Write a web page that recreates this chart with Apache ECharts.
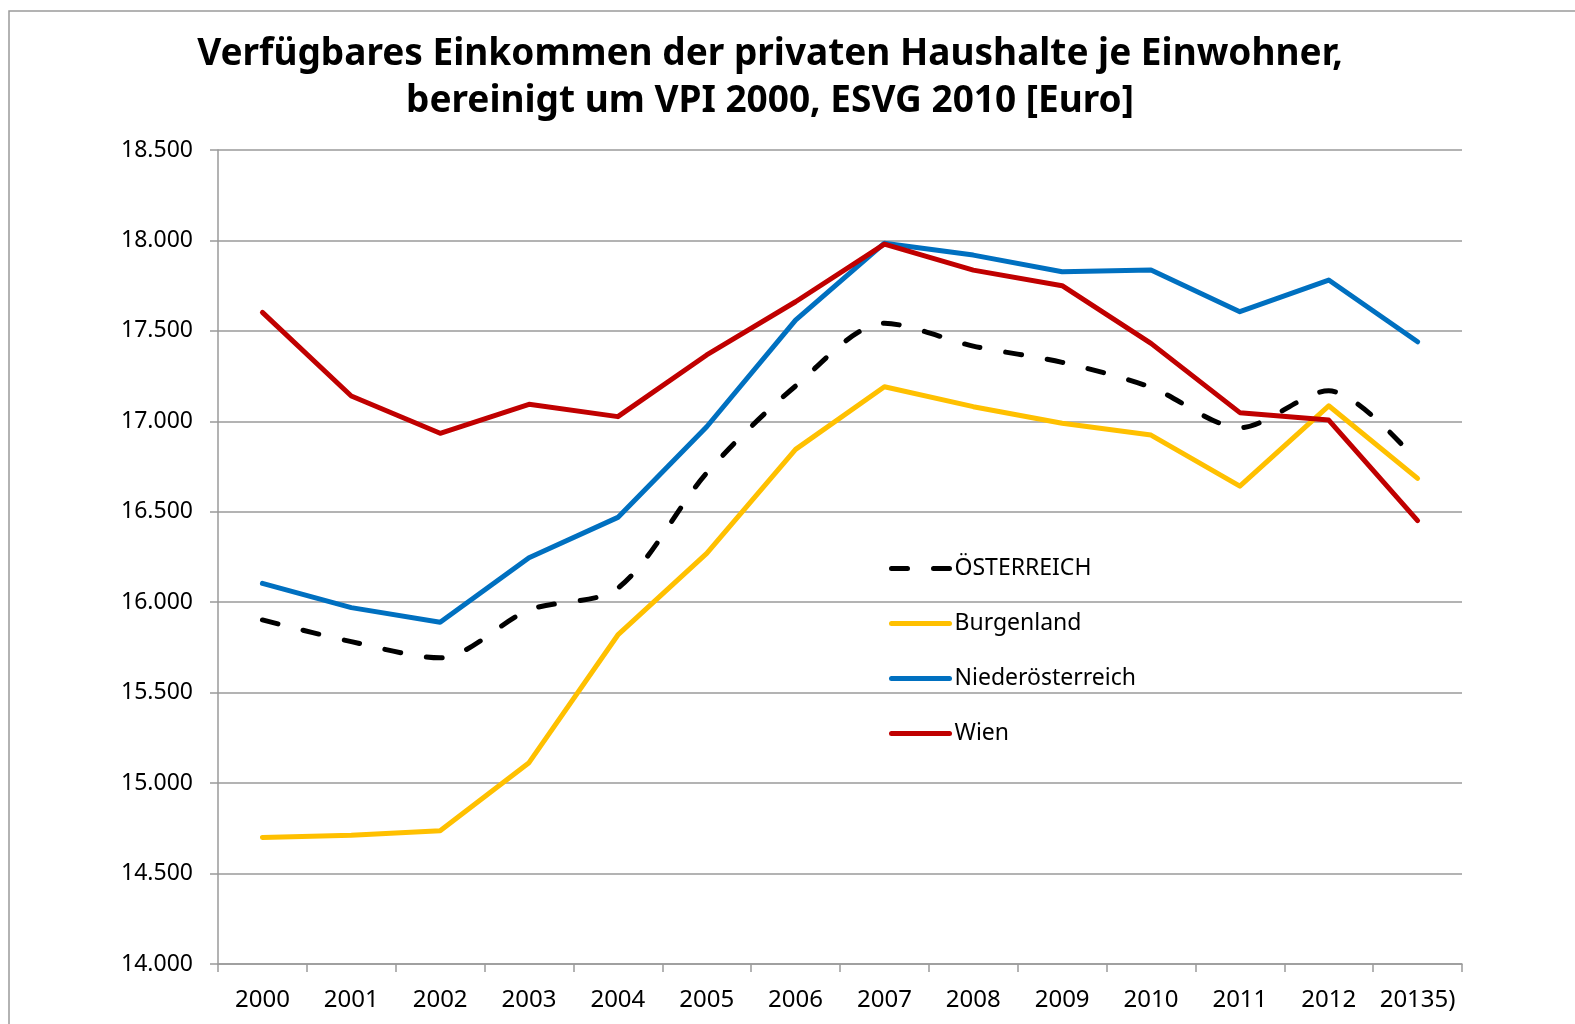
<!DOCTYPE html>
<html>
<head>
<meta charset="utf-8">
<script src="https://cdn.jsdelivr.net/npm/echarts@6/dist/echarts.min.js"></script>
<style>
  html, body { margin: 0; padding: 0; background: #fff; }
  #chart { width: 1575px; height: 1024px; }
</style>
</head>
<body>
<div id="chart"></div>
<script>
// data
const years = ["2000", "2001", "2002", "2003", "2004", "2005", "2006", "2007", "2008", "2009", "2010", "2011", "2012", "20135)"]
const oesterreich = [15902, 15782, 15693, 15957, 16078, 16715, 17195, 17542, 17416, 17326, 17188, 16965, 17169, 16775]
const burgenland = [14700, 14712, 14737, 15113, 15819, 16270, 16845, 17191, 17081, 16989, 16924, 16642, 17086, 16685]
const niederoesterreich = [16104, 15970, 15889, 16246, 16469, 16970, 17560, 17985, 17919, 17827, 17836, 17606, 17781, 17440]
const wien = [17602, 17140, 16934, 17094, 17026, 17367, 17661, 17980, 17836, 17750, 17431, 17048, 17007, 16451]

const chart = echarts.init(document.getElementById("chart"))

const font = "'Noto Sans', 'Open Sans', sans-serif"
const gray = "#9a9a9a"

const option = {
  backgroundColor: "#fff",
  animation: false,
  title: {
    text: "Verfügbares Einkommen der privaten Haushalte je Einwohner,\nbereinigt um VPI 2000, ESVG 2010 [Euro]",
    left: 765,
    textAlign: "center",
    top: 26,
    textStyle: {
      fontFamily: font,
      fontWeight: "bold",
      fontSize: 37,
      lineHeight: 47,
      color: "#000",
    },
  },
  graphic: [
    {
      type: "polyline",
      shape: { points: [[9, 1024], [9, 11], [1575, 11]] },
      style: { stroke: gray, lineWidth: 1.5, fill: null },
    },
  ],
  legend: {
    orient: "vertical",
    left: 884,
    top: 551,
    itemWidth: 58,
    itemHeight: 14,
    itemGap: 30,
    itemStyle: { opacity: 0, borderWidth: 0 },
    lineStyle: { width: 5, cap: "round" },
    data: ["ÖSTERREICH", "Burgenland", "Niederösterreich", "Wien"],
    textStyle: {
      fontFamily: font,
      fontSize: 23,
      lineHeight: 25,
      color: "#000",
    },
  },
  grid: {
    left: 218,
    right: 113,
    top: 150,
    bottom: 60,
  },
  xAxis: {
    type: "category",
    data: years,
    boundaryGap: true,
    axisLine: { lineStyle: { color: gray, width: 1.5 } },
    axisTick: { show: true, length: 8, lineStyle: { color: gray, width: 1.5 } },
    axisLabel: {
      color: "#000",
      fontFamily: font,
      fontSize: 24,
      margin: 24,
      interval: 0,
    },
  },
  yAxis: {
    type: "value",
    min: 14000,
    max: 18500,
    interval: 500,
    axisLine: { show: true, lineStyle: { color: gray, width: 1.5 } },
    axisTick: { show: true, length: 8, lineStyle: { color: gray, width: 1.5 } },
    splitLine: { lineStyle: { color: gray, width: 1.5 } },
    axisLabel: {
      color: "#000",
      fontFamily: font,
      fontSize: 23,
      margin: 25,
      formatter: (v) => v.toLocaleString("de-DE"),
    },
  },
  series: [
    {
      name: "ÖSTERREICH",
      type: "line",
      data: oesterreich,
      smooth: 0.3,
      symbol: "none",
      z: 5,
      lineStyle: { color: "#000", width: 5, type: [16, 26], cap: "round" },
      itemStyle: { color: "#000" },
    },
    {
      name: "Burgenland",
      type: "line",
      data: burgenland,
      symbol: "none",
      lineStyle: { color: "#ffc000", width: 5, cap: "round", join: "round" },
      itemStyle: { color: "#ffc000" },
    },
    {
      name: "Niederösterreich",
      type: "line",
      data: niederoesterreich,
      symbol: "none",
      lineStyle: { color: "#0070c0", width: 5, cap: "round", join: "round" },
      itemStyle: { color: "#0070c0" },
    },
    {
      name: "Wien",
      type: "line",
      data: wien,
      symbol: "none",
      z: 4,
      lineStyle: { color: "#c00000", width: 5, cap: "round", join: "round" },
      itemStyle: { color: "#c00000" },
    },
  ],
}

chart.setOption(option)
</script>
</body>
</html>
